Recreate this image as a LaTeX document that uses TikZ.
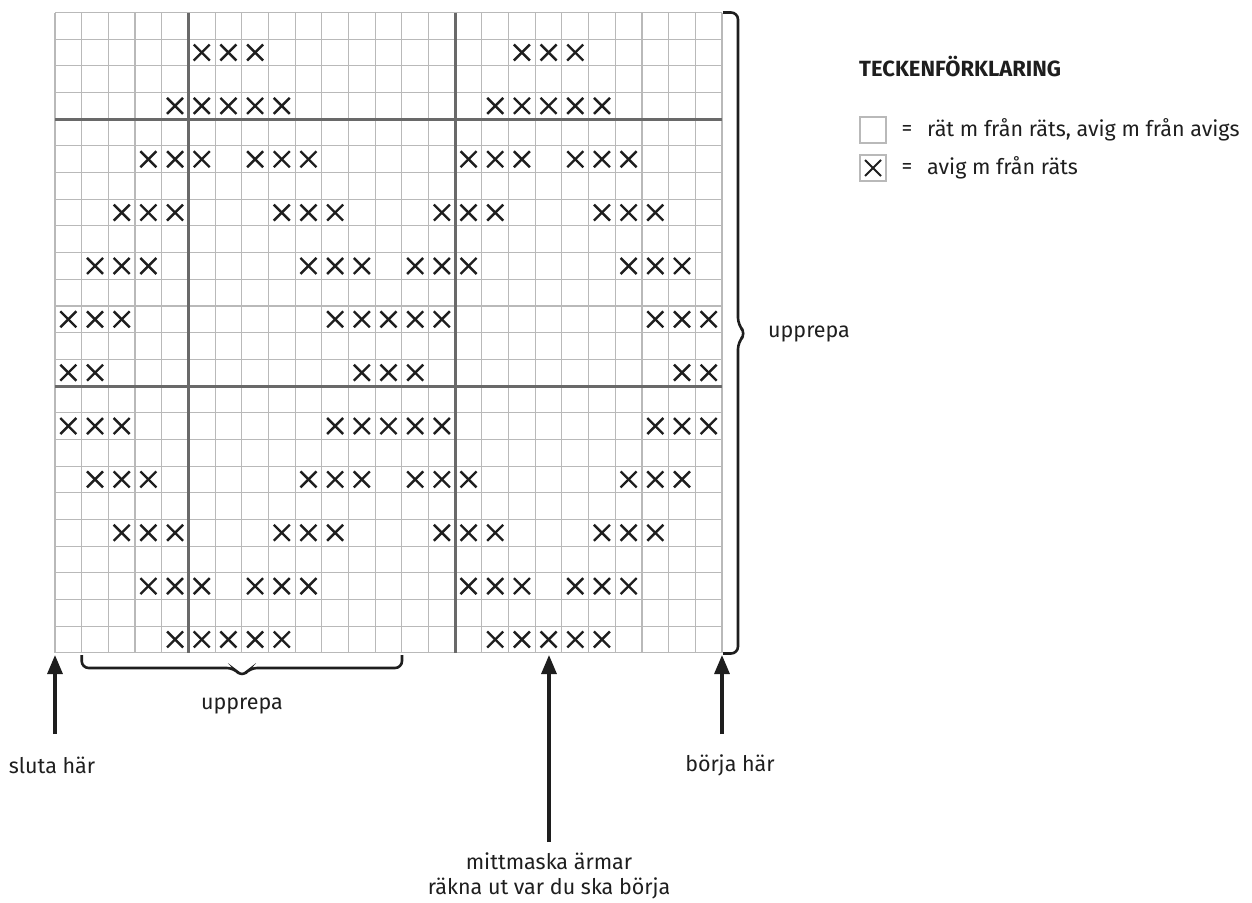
\documentclass[tikz,border=0pt]{standalone}
\usepackage{fontspec}
\setmainfont{Fira Sans}
\usetikzlibrary{arrows.meta}
\definecolor{thin}{RGB}{185,185,185}
\definecolor{thick}{RGB}{105,105,105}
\definecolor{ink}{RGB}{30,30,30}
\begin{document}
\begin{tikzpicture}[x=1pt,y=-1pt,
  thinline/.style={draw=thin,line width=1.1pt},
  thickline/.style={draw=thick,line width=3pt},
  xmark/.style={draw=ink,line width=2.4pt},
  bracepath/.style={draw=ink,line width=2.6pt,rounded corners=7pt},
  uparrow/.style={draw=ink,line width=3.2pt,-{Triangle[length=19pt,width=15pt]}},
  lbl/.style={font=\fontsize{21.5}{25}\selectfont,text=ink,inner sep=0pt},
  keybox/.style={draw=thin,line width=1.2pt,minimum size=26pt,inner sep=0pt}]
\useasboundingbox (0,0) rectangle (1252,902);
\def\gx{55}\def\gy{12.5}\def\cs{26.68}
% thin grid
\foreach \i in {0,...,25}
  \draw[thinline] (\gx+\i*\cs,\gy) -- (\gx+\i*\cs,\gy+24*\cs);
\foreach \j in {0,...,24}
  \draw[thinline] (\gx,\gy+\j*\cs) -- (\gx+25*\cs,\gy+\j*\cs);
% thick lines
\draw[thickline] (\gx+5*\cs,\gy) -- (\gx+5*\cs,\gy+24*\cs);
\draw[thickline] (\gx+15*\cs,\gy) -- (\gx+15*\cs,\gy+24*\cs);
\draw[thickline] (\gx,\gy+4*\cs) -- (\gx+25*\cs,\gy+4*\cs);
\draw[thickline] (\gx,\gy+14*\cs) -- (\gx+25*\cs,\gy+14*\cs);
% crosses
\foreach \r/\cols in {
  2/{6,7,8,18,19,20},
  4/{5,6,7,8,9,17,18,19,20,21},
  6/{4,5,6,8,9,10,16,17,18,20,21,22},
  8/{3,4,5,9,10,11,15,16,17,21,22,23},
  10/{2,3,4,10,11,12,14,15,16,22,23,24},
  12/{1,2,3,11,12,13,14,15,23,24,25},
  14/{1,2,12,13,14,24,25},
  16/{1,2,3,11,12,13,14,15,23,24,25},
  18/{2,3,4,10,11,12,14,15,16,22,23,24},
  20/{3,4,5,9,10,11,15,16,17,21,22,23},
  22/{4,5,6,8,9,10,16,17,18,20,21,22},
  24/{5,6,7,8,9,17,18,19,20,21}}
  \foreach \c in \cols {
    \draw[xmark] (\gx+\c*\cs-\cs/2-8,\gy+\r*\cs-\cs/2-8) -- ++(16,16);
    \draw[xmark] (\gx+\c*\cs-\cs/2-8,\gy+\r*\cs-\cs/2+8) -- ++(16,-16);
  }
% right brace
\draw[bracepath] (723,12.5) -- (738,12.5) -- (738,325) -- (746,333.5) -- (738,342) -- (738,653.5) -- (723,653.5);
\node[lbl,anchor=west] (uppR) at (768,334) {upprepa};
% bottom brace
\draw[bracepath] (81.7,655) -- (81.7,668) -- (234,668) -- (242,677) -- (250,668) -- (402,668) -- (402,655);
\node[lbl] (uppB) at (242,706) {upprepa};
% arrows and labels
\node[lbl] (sluta) at (52,765) {sluta här};
\node[lbl] (borja) at (730,765) {börja här};
\node[lbl,align=center] (mitt) at (549,876) {mittmaska ärmar\\räkna ut var du ska börja};
\coordinate (slutaTail) at (55,734);
\coordinate (slutaTip) at (55,655);
\coordinate (borjaTail) at (722,734);
\coordinate (borjaTip) at (722,655);
\coordinate (mittTail) at (549,842);
\coordinate (mittTip) at (549,655);
\draw[uparrow] (slutaTail) -- (slutaTip);
\draw[uparrow] (borjaTail) -- (borjaTip);
\draw[uparrow] (mittTail) -- (mittTip);
% legend
\node[lbl,font=\fontsize{22}{26}\selectfont\bfseries,anchor=west] (title) at (859,67) {TECKENFÖRKLARING};
\node[keybox] (k1) at (873,130) {};
\node[keybox] (k2) at (873,168) {};
\draw[xmark,line width=2pt] ([shift={(-8,-8)}]k2.center) -- ([shift={(8,8)}]k2.center);
\draw[xmark,line width=2pt] ([shift={(-8,8)}]k2.center) -- ([shift={(8,-8)}]k2.center);
\node[lbl] (eq1) at (907,130) {=};
\node[lbl] (eq2) at (907,168) {=};
\node[lbl,anchor=west] (t1) at (927,130) {rät m från räts, avig m från avigs};
\node[lbl,anchor=west] (t2) at (927,168) {avig m från räts};
\end{tikzpicture}
\end{document}
